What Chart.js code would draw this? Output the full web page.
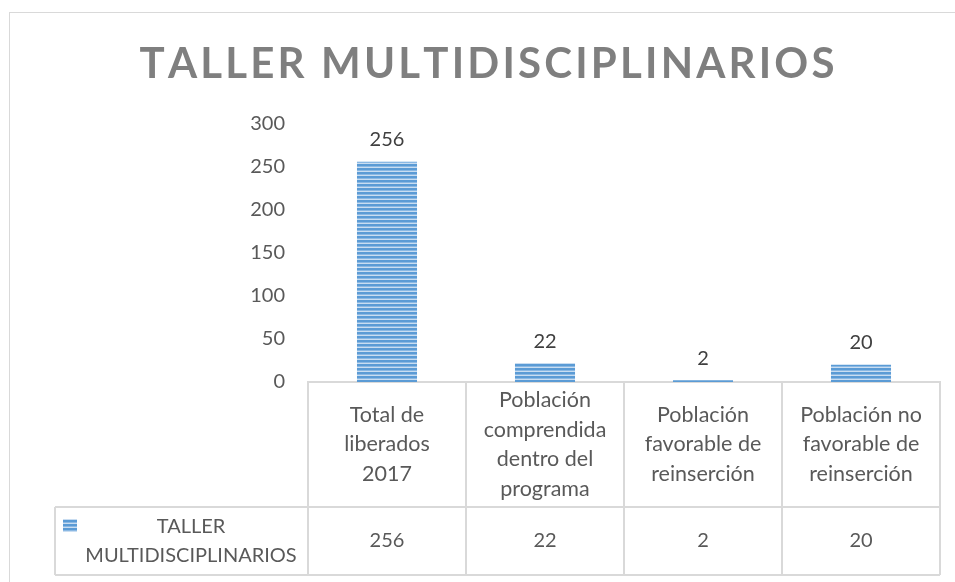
<!DOCTYPE html>
<html>
<head>
<meta charset="utf-8">
<script src="https://cdn.jsdelivr.net/npm/chart.js@4"></script>
<style>
  html, body { margin: 0; padding: 0; background: #fff; }
  #wrap { width: 955px; height: 582px; }
</style>
</head>
<body>
<div id="wrap"><canvas id="chart" width="955" height="582"></canvas></div>
<script>
// datos del gráfico
const chartTitle = 'TALLER MULTIDISCIPLINARIOS';
const seriesName = 'TALLER MULTIDISCIPLINARIOS';
const categories = [
  ['Total de', 'liberados', '2017'],
  ['Población', 'comprendida', 'dentro del', 'programa'],
  ['Población', 'favorable de', 'reinserción'],
  ['Población no', 'favorable de', 'reinserción']
];
const values = [256, 22, 2, 20];
const yMin = 0;
const yMax = 300;
const yStep = 50;

const FONT = 'Lato, "Open Sans", sans-serif';
const LINE = '#d9d9d9';

// relleno rayado de las barras
function stripePattern() {
  const c = document.createElement('canvas');
  c.width = 4; c.height = 4;
  const g = c.getContext('2d');
  g.fillStyle = '#c9ddf1';
  g.fillRect(0, 0, 4, 4);
  g.fillStyle = '#5b9bd5';
  g.fillRect(0, 0, 4, 2);
  g.fillStyle = '#8ab8e3';
  g.fillRect(0, 2, 4, 1);
  return g.createPattern(c, 'repeat');
}
const barFill = stripePattern();

// marco, título, etiquetas de datos y tabla
const extras = {
  id: 'extras',
  beforeDraw(chart) {
    const ctx = chart.ctx;
    ctx.save();
    ctx.strokeStyle = LINE;
    ctx.lineWidth = 1;
    ctx.strokeRect(9.5, 12.5, 1200, 1200);

    // título con espaciado
    ctx.fillStyle = '#7f7f7f';
    ctx.font = 'bold 42px ' + FONT;
    ctx.textBaseline = 'alphabetic';
    const chars = chartTitle.split('');
    const widths = chars.map(ch => ctx.measureText(ch).width);
    const raw = widths.reduce((a, b) => a + b, 0);
    const target = 695;
    const gap = (target - raw) / (chars.length - 1);
    let x = 487 - target / 2;
    chars.forEach((ch, i) => {
      ctx.textAlign = 'left';
      ctx.fillText(ch, x, 78);
      x += widths[i] + gap;
    });
    ctx.restore();
  },
  afterDraw(chart) {
    const ctx = chart.ctx;
    const area = chart.chartArea;
    const xs = chart.scales.x;
    const colW = area.width / values.length;
    const top = area.bottom;
    const mid = top + 125;
    const bot = mid + 68;
    const legLeft = 55;

    ctx.save();
    // etiquetas de datos
    const meta = chart.getDatasetMeta(0);
    ctx.fillStyle = '#404040';
    ctx.font = '20px ' + FONT;
    ctx.textAlign = 'center';
    ctx.textBaseline = 'bottom';
    meta.data.forEach((bar, i) => {
      ctx.fillText(String(values[i]), bar.x, bar.y - 12);
    });

    // líneas de la tabla
    ctx.strokeStyle = LINE;
    ctx.lineWidth = 2;
    ctx.beginPath();
    for (let i = 0; i <= values.length; i++) {
      const lx = Math.round(area.left + i * colW);
      ctx.moveTo(lx, top);
      ctx.lineTo(lx, bot);
    }
    ctx.moveTo(legLeft, mid); ctx.lineTo(area.right, mid);
    ctx.moveTo(legLeft, bot); ctx.lineTo(area.right, bot);
    ctx.moveTo(legLeft, mid); ctx.lineTo(legLeft, bot);
    ctx.stroke();

    // categorías
    ctx.fillStyle = '#595959';
    ctx.textBaseline = 'middle';
    const lh = 29.5;
    categories.forEach((lines, i) => {
      const cx = xs.getPixelForValue(i);
      const cy = (top + mid) / 2;
      const y0 = cy - (lines.length - 1) * lh / 2;
      ctx.font = '21.5px ' + FONT;
      lines.forEach((t, j) => ctx.fillText(t, cx, y0 + j * lh));
      ctx.font = '20px ' + FONT;
      ctx.fillText(String(values[i]), cx, (mid + bot) / 2);
    });

    // clave de la serie
    ctx.fillStyle = barFill;
    ctx.fillRect(63, 519, 14, 13);
    ctx.fillStyle = '#595959';
    ctx.font = '20px ' + FONT;
    const words = seriesName.split(' ');
    ctx.fillText(words[0], 191, 527);
    ctx.fillText(words.slice(1).join(' '), 191, 556);
    ctx.restore();
  }
};

new Chart(document.getElementById('chart'), {
  type: 'bar',
  data: {
    labels: categories,
    datasets: [{
      label: seriesName,
      data: values,
      backgroundColor: barFill,
      borderWidth: 0,
      categoryPercentage: 1,
      barPercentage: 0.38
    }]
  },
  options: {
    responsive: false,
    animation: false,
    devicePixelRatio: 1,
    layout: { padding: { top: 124, right: 15, left: 0, bottom: 0 } },
    plugins: {
      legend: { display: false },
      tooltip: { enabled: false }
    },
    scales: {
      x: {
        grid: { display: false, drawTicks: false },
        border: { display: true, color: LINE, width: 2 },
        ticks: { display: false },
        afterFit: s => { s.height = 200; }
      },
      y: {
        min: yMin,
        max: yMax,
        grid: { display: false, drawTicks: false },
        border: { display: false },
        ticks: {
          stepSize: yStep,
          padding: 23,
          color: '#595959',
          font: { family: FONT, size: 20 }
        },
        afterFit: s => { s.width = 308; }
      }
    }
  },
  plugins: [extras]
});
</script>
</body>
</html>
